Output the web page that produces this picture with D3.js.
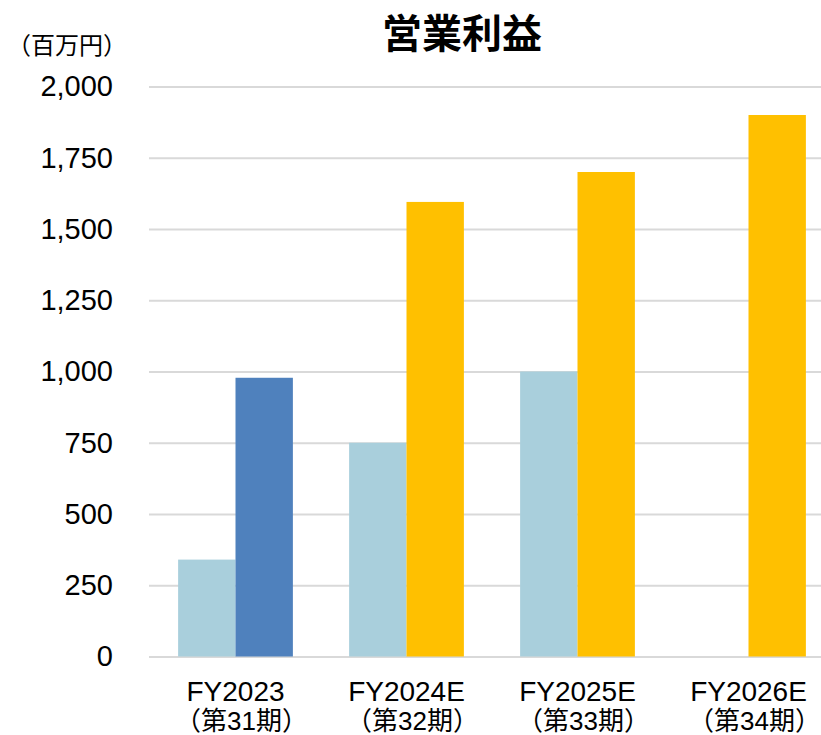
<!DOCTYPE html>
<html>
<head>
<meta charset="utf-8">
<script src="https://cdn.jsdelivr.net/npm/d3@7"></script>
<style>
  body { margin: 0; background: #fff; }
  svg { display: block; }
</style>
</head>
<body>
<div id="chart"></div>
<script>
// chart values
const categories = ["FY2023", "FY2024E", "FY2025E", "FY2026E"];
const periods = ["（第31期）", "（第32期）", "（第33期）", "（第34期）"];
const planValues = [340, 750, 1000, null];      // light blue bars
const resultValues = [978, 1595, 1700, 1900];   // actual / forecast bars
const resultKinds = ["actual", "forecast", "forecast", "forecast"];
const yTicks = [0, 250, 500, 750, 1000, 1250, 1500, 1750, 2000];

const width = 821, height = 735;
const latin = "'Liberation Sans', Arial, 'Noto Sans CJK JP', sans-serif";
const cjk = "'Noto Sans CJK JP', sans-serif";

const svg = d3.select("#chart").append("svg")
    .attr("width", width)
    .attr("height", height);

// scales
const x0 = d3.scaleBand()
    .domain(categories)
    .range([150, 834])
    .padding(0);

const x1 = d3.scaleBand()
    .domain(["plan", "result"])
    .range([0, x0.bandwidth()])
    .paddingInner(0)
    .paddingOuter(0.49);

const y = d3.scaleLinear()
    .domain([0, 2000])
    .range([656.5, 86.5]);

const colors = {plan: "#a9cfdc", actual: "#4f81bd", forecast: "#ffc000"};

// gridlines + tick labels
const yAxis = svg.append("g")
    .attr("transform", "translate(149,0)")
    .call(d3.axisLeft(y)
        .tickValues(yTicks)
        .tickFormat(d3.format(","))
        .tickSize(-(width - 149))
        .tickPadding(36));

yAxis.select(".domain").remove();
yAxis.selectAll(".tick line")
    .attr("stroke", "#d9d9d9")
    .attr("stroke-width", 2);
yAxis.selectAll(".tick text")
    .attr("fill", "#000")
    .style("font-family", latin)
    .style("font-size", "29px");

// bars
const rows = categories.map((c, i) => ({
    cat: c,
    plan: planValues[i],
    result: resultValues[i],
    kind: resultKinds[i]
}));

const groups = svg.append("g").selectAll("g")
    .data(rows)
    .join("g")
    .attr("transform", d => `translate(${x0(d.cat)},0)`);

groups.filter(d => d.plan != null).append("rect")
    .attr("x", x1("plan"))
    .attr("width", x1.bandwidth())
    .attr("y", d => y(d.plan))
    .attr("height", d => y(0) - y(d.plan))
    .attr("fill", colors.plan);

groups.append("rect")
    .attr("x", x1("result"))
    .attr("width", x1.bandwidth())
    .attr("y", d => y(d.result))
    .attr("height", d => y(0) - y(d.result))
    .attr("fill", d => colors[d.kind]);

// category labels
const labels = svg.append("g").selectAll("g")
    .data(categories)
    .join("g")
    .attr("transform", d => `translate(${x0(d) + x0.bandwidth() / 2},0)`);

labels.append("text")
    .attr("y", 701)
    .attr("text-anchor", "middle")
    .style("font-family", latin)
    .style("font-size", "28px")
    .text(d => d);

labels.append("text")
    .attr("x", 6)
    .attr("y", 730)
    .attr("text-anchor", "middle")
    .style("font-family", latin)
    .style("font-size", "26px")
    .text((d, i) => periods[i]);

// title and unit
svg.append("text")
    .attr("x", 462)
    .attr("y", 48)
    .attr("text-anchor", "middle")
    .style("font-family", cjk)
    .style("font-weight", "bold")
    .style("font-size", "40px")
    .text("営業利益");

svg.append("text")
    .attr("x", 67)
    .attr("y", 54)
    .attr("text-anchor", "middle")
    .style("font-family", cjk)
    .style("font-size", "24px")
    .text("（百万円）");
</script>
</body>
</html>
